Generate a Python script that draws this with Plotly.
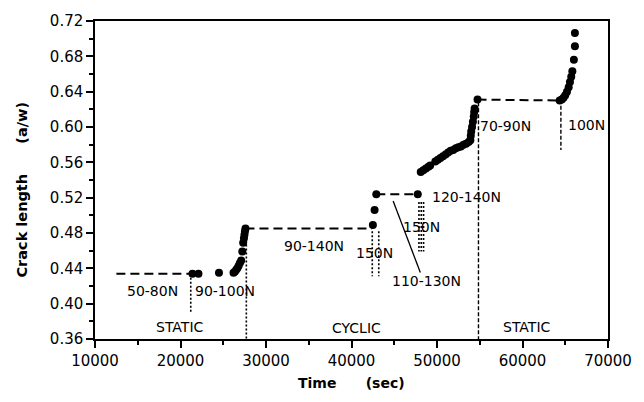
import plotly.graph_objects as go

NB = "\u00a0"

# ---- data (time in sec, crack length a/w) ----
seg1_t = [21400, 22100, 24500, 26200, 26350, 26500, 26650, 26800, 26950, 27100,
          27230, 27330, 27420, 27480, 27540, 27600]
seg1_a = [0.434, 0.434, 0.435, 0.435, 0.436, 0.438, 0.440, 0.443, 0.446, 0.449,
          0.459, 0.469, 0.474, 0.478, 0.482, 0.485]

seg2_t = [42500, 42700, 42900, 47750]
seg2_a = [0.489, 0.506, 0.524, 0.524]

seg3_t = [48100, 48400, 48700, 49000, 49200, 49800, 50100, 50400, 50700, 51000,
          51300, 51600, 51900, 52200, 52500, 52800, 53100, 53400, 53700, 53900,
          53950, 54000, 54100, 54200, 54300, 54350, 54400, 54740]
seg3_a = [0.549, 0.551, 0.553, 0.555, 0.5565, 0.561, 0.563, 0.565, 0.567, 0.569,
          0.571, 0.573, 0.574, 0.576, 0.577, 0.578, 0.580, 0.581, 0.583, 0.585,
          0.590, 0.595, 0.600, 0.606, 0.612, 0.617, 0.621, 0.631]

seg4_t = [64350, 64600, 64800, 65000, 65200, 65400, 65550, 65700, 65830, 66010,
          66130, 66130]
seg4_a = [0.630, 0.631, 0.633, 0.636, 0.640, 0.645, 0.651, 0.657, 0.663, 0.676,
          0.6915, 0.7064]

# dashed hold lines (static/cyclic hold levels)
hold_t = [[12500, 21400], [27600, 42400], [42900, 47750], [54740, 64350]]
hold_a = [[0.434, 0.434], [0.485, 0.485], [0.524, 0.524], [0.631, 0.630]]

# dotted load markers
dot_t = [[21200, 21200], [27700, 27700], [42430, 42430], [43190, 43190],
         [47890, 47890], [48160, 48160], [48430, 48430]]
dot_a = [[0.434, 0.389], [0.485, 0.36], [0.482, 0.431], [0.482, 0.431],
         [0.515, 0.459], [0.515, 0.459], [0.515, 0.459]]

# finer dashed dividers
div_t = [[54850, 54850], [64490, 64490]]
div_a = [[0.628, 0.36], [0.624, 0.574]]

# leader line for 110-130N
lead_t = [44870, 48050]
lead_a = [0.5163, 0.4353]

label_text = ["50-80N", "90-100N", "STATIC", "90-140N", "150N", "150N",
              "110-130N", "120-140N", "CYCLIC", "70-90N", "100N", "STATIC"]
label_t = [16770, 25260, 19950, 35580, 42690, 48240, 48810, 53400, 40600,
           57990, 67470, 60480]
label_a = [0.414, 0.414, 0.3734, 0.465, 0.4577, 0.4864, 0.426, 0.521, 0.372,
           0.6013, 0.602, 0.3734]

x_ticks = [10000, 20000, 30000, 40000, 50000, 60000, 70000]
y_ticks = [0.36, 0.40, 0.44, 0.48, 0.52, 0.56, 0.60, 0.64, 0.68, 0.72]

FONT = "DejaVu Sans"

fig = go.Figure()

for xs, ys in zip(hold_t, hold_a):
    fig.add_trace(go.Scatter(x=xs, y=ys, mode="lines",
                             line=dict(color="black", width=2, dash="9px,5px"),
                             showlegend=False, hoverinfo="skip"))
for xs, ys in zip(dot_t, dot_a):
    fig.add_trace(go.Scatter(x=xs, y=ys, mode="lines",
                             line=dict(color="black", width=1.6, dash="2px,2px"),
                             showlegend=False, hoverinfo="skip"))
for xs, ys in zip(div_t, div_a):
    fig.add_trace(go.Scatter(x=xs, y=ys, mode="lines",
                             line=dict(color="black", width=1.4, dash="4px,2px"),
                             showlegend=False, hoverinfo="skip"))
fig.add_trace(go.Scatter(x=lead_t, y=lead_a, mode="lines",
                         line=dict(color="black", width=1.3),
                         showlegend=False, hoverinfo="skip"))

for xs, ys in [(seg1_t, seg1_a), (seg2_t, seg2_a), (seg3_t, seg3_a), (seg4_t, seg4_a)]:
    fig.add_trace(go.Scatter(x=xs, y=ys, mode="markers",
                             marker=dict(color="black", size=8),
                             showlegend=False))

for txt, xv, yv in zip(label_text, label_t, label_a):
    fig.add_annotation(x=xv, y=yv, text=txt, showarrow=False,
                       font=dict(family=FONT, size=14, color="black"),
                       xanchor="center", yanchor="middle")

fig.add_annotation(x=0.5, y=0, xref="paper", yref="paper", yshift=-44,
                   text="Time" + NB * 6 + "(sec)", showarrow=False,
                   font=dict(family=FONT, size=14, color="black", weight="bold"),
                   xanchor="center", yanchor="middle")
fig.add_annotation(x=0, y=0.47, xref="paper", yref="paper", xshift=-73,
                   text="Crack" + NB + "length" + NB * 6 + "(a/w)", showarrow=False,
                   textangle=-90,
                   font=dict(family=FONT, size=14.5, color="black", weight="bold"),
                   xanchor="center", yanchor="middle")

axis_common = dict(showline=True, linecolor="black", linewidth=1.5, mirror=True,
                   showgrid=False, zeroline=False, ticks="outside",
                   tickcolor="black", tickwidth=1.5, ticklen=7,
                   tickfont=dict(family=FONT, size=15, color="black"))

fig.update_xaxes(range=[10000, 70000], tickvals=x_ticks,
                 ticktext=[str(v) for v in x_ticks],
                 minor=dict(dtick=5000, tick0=10000, ticks="outside", ticklen=4,
                            tickcolor="black", tickwidth=1.5),
                 **axis_common)
fig.update_yaxes(range=[0.36, 0.72], tickvals=y_ticks,
                 ticktext=[f"{v:.2f}" for v in y_ticks],
                 minor=dict(dtick=0.02, tick0=0.36, ticks="outside", ticklen=4,
                            tickcolor="black", tickwidth=1.5),
                 **axis_common)

fig.update_layout(width=644, height=402,
                  margin=dict(l=95, r=26, t=17, b=63),
                  paper_bgcolor="white", plot_bgcolor="white",
                  showlegend=False)

fig.write_html("out.html")
